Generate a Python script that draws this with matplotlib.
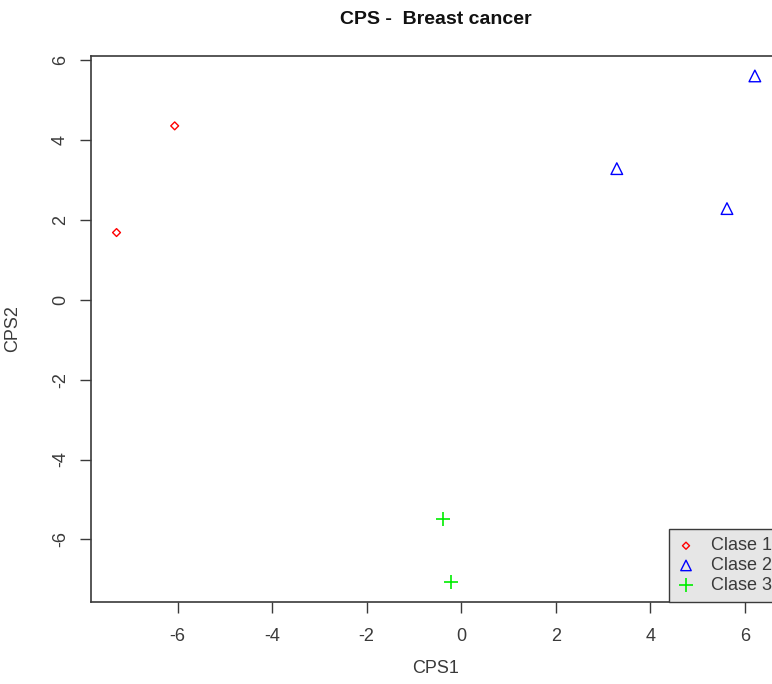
import matplotlib
matplotlib.use("Agg")
import matplotlib.pyplot as plt

# scores on the first two CPS components, one list per class
clase1_x = [-7.29, -6.06]
clase1_y = [1.68, 4.35]
clase2_x = [3.29, 6.21, 5.62]
clase2_y = [3.28, 5.60, 2.28]
clase3_x = [-0.38, -0.21]
clase3_y = [-5.48, -7.06]

class_names = ["Clase 1", "Clase 2", "Clase 3"]
x_ticks = [-6, -4, -2, 0, 2, 4, 6]
y_ticks = [-6, -4, -2, 0, 2, 4, 6]

plt.rcParams["font.family"] = ["Liberation Sans", "DejaVu Sans"]
ink = "#3a3a3a"

fig = plt.figure(figsize=(7.72, 6.84), dpi=100)
ax = fig.add_axes([91 / 772, 82 / 684, 689.4 / 772, 546.3 / 684])

ax.scatter(clase1_x, clase1_y, marker="D", s=16, facecolors="none",
           edgecolors="#ff0000", linewidths=1.0, label=class_names[0])
ax.scatter(clase2_x, clase2_y, marker="^", s=70, facecolors="none",
           edgecolors="#0000ff", linewidths=1.0, label=class_names[1])
ax.scatter(clase3_x, clase3_y, marker="+", s=110, color="#00ee00",
           linewidths=1.2, label=class_names[2])

# R-style 4% padding around the data range
xs = clase1_x + clase2_x + clase3_x
ys = clase1_y + clase2_y + clase3_y
dx = (max(xs) - min(xs)) * 0.04
dy = (max(ys) - min(ys)) * 0.04
ax.set_xlim(min(xs) - dx, max(xs) + dx)
ax.set_ylim(min(ys) - dy, max(ys) + dy)

ax.set_xticks(x_ticks)
ax.set_yticks(y_ticks)
ax.set_xticklabels([str(v) for v in x_ticks])
ax.set_yticklabels([str(v) for v in y_ticks], rotation=90, va="center")
ax.tick_params(axis="both", direction="out", length=8, width=1,
               colors=ink, labelsize=13, labelcolor=ink)
ax.tick_params(axis="x", pad=11)
ax.tick_params(axis="y", pad=8)
for sp in ax.spines.values():
    sp.set_color(ink)
    sp.set_linewidth(1.2)

ax.set_title("CPS -  Breast cancer", fontsize=14, fontweight="bold",
             color="#111111", pad=22.5)
ax.set_xlabel("CPS1", fontsize=13, color=ink, labelpad=10.5)
ax.set_ylabel("CPS2", fontsize=13, color=ink, labelpad=22)

leg = ax.legend(loc="lower right", borderaxespad=0, fancybox=False,
                framealpha=1, facecolor="#e6e6e6", edgecolor=ink,
                fontsize=13, handlelength=1.0, handletextpad=0.9,
                labelspacing=0.15, borderpad=0.45, markerscale=0.9)
leg.get_frame().set_linewidth(1.0)
for t in leg.get_texts():
    t.set_color(ink)

fig.savefig("out.png", dpi=100)
